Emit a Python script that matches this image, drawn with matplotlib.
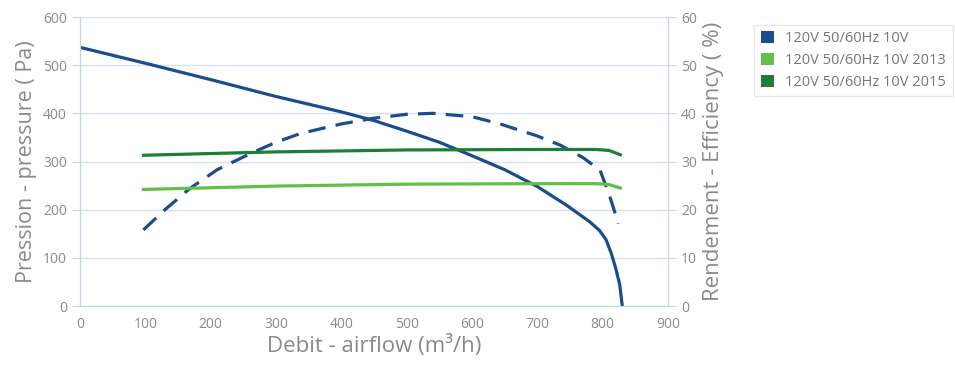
import matplotlib.pyplot as plt
from matplotlib.patches import Patch

plt.rcParams['font.family'] = ['Open Sans', 'DejaVu Sans']

# pressure curve (left axis, Pa)
flow_p = [0, 100, 200, 300, 400, 450, 500, 550, 600, 650, 700, 745, 780, 795, 805, 813, 820, 826, 830]
pressure = [537, 504, 470, 435, 403, 385, 363, 340, 312, 283, 248, 209, 175, 157, 138, 110, 78, 45, 0]

# efficiency curves (right axis, %)
flow_e = [97, 130, 168, 210, 260, 300, 337, 400, 450, 500, 540, 600, 643, 700, 735, 770, 796, 811, 824]
efficiency = [15.8, 20.0, 24.4, 28.3, 31.6, 34.0, 35.8, 37.8, 39.0, 39.8, 40.0, 39.3, 37.8, 35.3, 33.4, 30.8, 28.2, 22.7, 17.1]

flow_g = [97, 300, 500, 700, 790, 810, 827]
eff_2013 = [24.2, 24.9, 25.3, 25.4, 25.4, 25.2, 24.5]
eff_2015 = [31.3, 32.0, 32.4, 32.5, 32.5, 32.3, 31.4]

labels = ["120V 50/60Hz 10V", "120V 50/60Hz 10V 2013", "120V 50/60Hz 10V 2015"]
colors = ["#1b4c8c", "#62c04a", "#1e7e35"]

grid_c = "#d6e3ee"
text_c = "#8a8a8a"

fig = plt.figure(figsize=(9.55, 3.65), dpi=100)
ax = fig.add_axes([0.0838, 0.1616, 0.6157, 0.7918])
ax2 = ax.twinx()

ax.plot(flow_p, pressure, color=colors[0], lw=2.3)
ax2.plot(flow_e, efficiency, color=colors[0], lw=2.3, dashes=(5.5, 3.2))
ax2.plot(flow_g, eff_2013, color=colors[1], lw=2.3)
ax2.plot(flow_g, eff_2015, color=colors[2], lw=2.3)

ax.set_xlim(0, 900)
ax.set_ylim(0, 600)
ax2.set_ylim(0, 60)
ax.set_xticks(range(0, 901, 100))
ax.set_yticks(range(0, 601, 100))
ax2.set_yticks(range(0, 61, 10))
ax.grid(axis='y', color=grid_c, lw=1)
ax.set_axisbelow(True)

for a in (ax, ax2):
    for s in a.spines.values():
        s.set_color("#c5d6e6")
    a.tick_params(colors="#c5d6e6", labelcolor=text_c, labelsize=10, length=6)
ax.spines['top'].set_visible(False)
ax2.spines['top'].set_visible(False)
ax.tick_params(axis='x', length=0, pad=8)

ax.set_xlabel("Debit - airflow (m³/h)", color=text_c, fontsize=16, labelpad=2)
ax.set_ylabel("Pression - pressure ( Pa)", color=text_c, fontsize=15.5, labelpad=4)
ax2.set_ylabel("Rendement - Efficiency ( %)", color=text_c, fontsize=16, labelpad=4)

handles = [Patch(facecolor=c, edgecolor='none') for c in colors]
leg = fig.legend(handles, labels, loc='upper left', bbox_to_anchor=(0.782, 0.952),
                 fontsize=10.5, frameon=True, handlelength=0.9, handleheight=0.9,
                 handletextpad=0.8, labelspacing=0.45, borderpad=0.45, fancybox=False)
leg.get_frame().set_edgecolor("#e2e2e2")
leg.get_frame().set_linewidth(1)
for t in leg.get_texts():
    t.set_color("#777777")

fig.savefig("out.png", dpi=100)
